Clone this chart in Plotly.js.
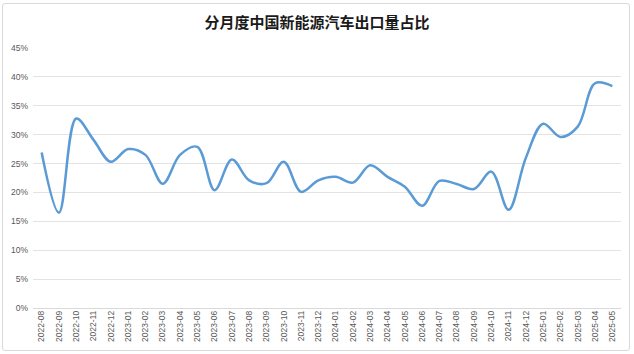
<!DOCTYPE html>
<html>
<head>
<meta charset="utf-8">
<script src="https://cdn.plot.ly/plotly-3.0.1.min.js"></script>
<style>
html,body{margin:0;padding:0;background:#fff;}
#wrap{position:relative;width:634px;height:354px;}
#chart{width:634px;height:354px;}
#frame{position:absolute;left:2px;top:3px;width:626px;height:346px;border:1px solid #d9d9d9;border-radius:3px;pointer-events:none;}
</style>
</head>
<body>
<div id="wrap"><div id="chart"></div><div id="frame"></div></div>
<script>
const months = ["2022-08","2022-09","2022-10","2022-11","2022-12","2023-01","2023-02","2023-03","2023-04","2023-05","2023-06","2023-07","2023-08","2023-09","2023-10","2023-11","2023-12","2024-01","2024-02","2024-03","2024-04","2024-05","2024-06","2024-07","2024-08","2024-09","2024-10","2024-11","2024-12","2025-01","2025-02","2025-03","2025-04","2025-05"];
const sharePct = [26.9,16.5,32.8,29.1,25.3,27.5,26.5,21.5,26.5,27.9,20.4,25.7,22.1,21.6,25.3,20.1,22.1,22.7,21.7,24.7,22.7,21.0,17.7,22.0,21.45,20.6,23.6,17.0,26.0,31.9,29.6,31.4,38.9,38.4];
const yTicks = [0,5,10,15,20,25,30,35,40,45];
const titleText = "分月度中国新能源汽车出口量占比";

const trace = {
  x: months, y: sharePct, type: "scatter", mode: "lines",
  line: {color: "#5b9bd5", width: 2.5, shape: "spline", smoothing: 1},
  hoverinfo: "x+y"
};
const layout = {
  width: 634, height: 354,
  margin: {l: 33, r: 13, t: 48, b: 46},
  paper_bgcolor: "rgba(0,0,0,0)", plot_bgcolor: "#fff",
  title: {text: titleText, x: 0.5, xanchor: "center", y: 0.935, yanchor: "middle",
    font: {family: "Noto Sans CJK SC, sans-serif", size: 15, color: "#1a1a1a", weight: "bold"}},
  showlegend: false,
  xaxis: {type: "category", range: [-0.5, months.length - 0.5], tickangle: -90, showgrid: false, zeroline: false,
    showline: false, ticks: "", tickfont: {family: "Liberation Sans, Arial, sans-serif", size: 8.5, color: "#595959"},
    automargin: false},
  yaxis: {range: [0, 45], tickvals: yTicks, ticktext: yTicks.map(v => v + "%"),
    showgrid: true, gridcolor: "#e3e3e3", gridwidth: 1, zeroline: true, zerolinecolor: "#d9d9d9", zerolinewidth: 1,
    showline: false, ticks: "", ticklabelstandoff: 4,
    tickfont: {family: "Liberation Sans, Arial, sans-serif", size: 8.5, color: "#595959"}, automargin: false}
};
Plotly.newPlot("chart", [trace], layout, {displayModeBar: false, staticPlot: true});
</script>
</body>
</html>
